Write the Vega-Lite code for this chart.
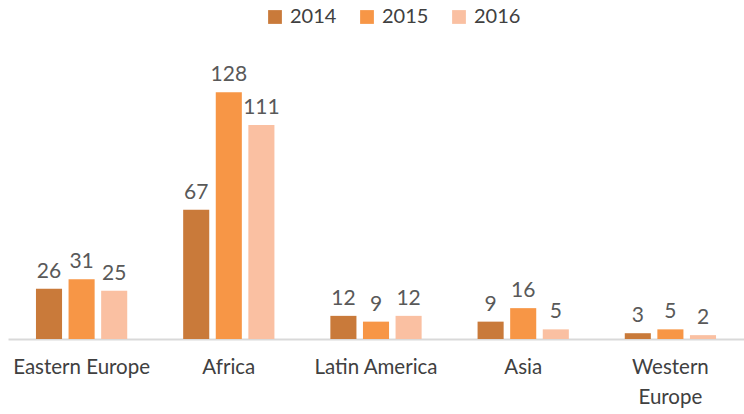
{
  "$schema": "https://vega.github.io/schema/vega-lite/v6.json",
  "autosize": {"type": "none"},
  "width": 736,
  "height": 270,
  "padding": {"left": 8, "top": 69, "right": 0, "bottom": 75},
  "background": "white",
  "config": {"view": {"stroke": null}, "font": "Lato"},
  "data": {"values": [
    {"region": "Eastern Europe", "year": "2014", "value": 26},
    {"region": "Eastern Europe", "year": "2015", "value": 31},
    {"region": "Eastern Europe", "year": "2016", "value": 25},
    {"region": "Africa", "year": "2014", "value": 67},
    {"region": "Africa", "year": "2015", "value": 128},
    {"region": "Africa", "year": "2016", "value": 111},
    {"region": "Latin America", "year": "2014", "value": 12},
    {"region": "Latin America", "year": "2015", "value": 9},
    {"region": "Latin America", "year": "2016", "value": 12},
    {"region": "Asia", "year": "2014", "value": 9},
    {"region": "Asia", "year": "2015", "value": 16},
    {"region": "Asia", "year": "2016", "value": 5},
    {"region": "Western Europe", "year": "2014", "value": 3},
    {"region": "Western Europe", "year": "2015", "value": 5},
    {"region": "Western Europe", "year": "2016", "value": 2}
  ]},
  "encoding": {
    "x": {"field": "region", "type": "nominal", "sort": null,
      "scale": {"paddingInner": 0.38, "paddingOuter": 0.19},
      "axis": {"title": null, "labelAngle": 0, "ticks": false, "domainColor": "#D9D9D9", "domainWidth": 2,
        "labelFontSize": 20.5, "labelColor": "#404040", "labelPadding": 18, "labelBaseline": "top", "labelLineHeight": 30,
        "labelExpr": "datum.label == 'Western Europe' ? ['Western', 'Europe'] : datum.label"}},
    "xOffset": {"field": "year", "type": "nominal", "scale": {"paddingInner": 0.2}},
    "y": {"field": "value", "type": "quantitative", "scale": {"domain": [0, 140]}, "axis": null},
    "color": {"field": "year", "type": "nominal",
      "scale": {"domain": ["2014", "2015", "2016"], "range": ["#C97A3A", "#F79646", "#FAC0A2"]},
      "legend": {"title": null, "orient": "none", "direction": "horizontal", "legendX": 257, "legendY": -62,
        "symbolType": "square", "symbolSize": 190, "symbolStrokeWidth": 0, "labelFontSize": 20, "labelColor": "#404040", "columnPadding": 20, "labelOffset": 5}}
  },
  "layer": [
    {"mark": {"type": "bar"}},
    {"mark": {"type": "text", "baseline": "bottom", "dy": -7, "fontSize": 21, "fill": "#595959"},
      "encoding": {"text": {"field": "value", "type": "quantitative"}, "color": {"value": "#595959"}}}
  ]
}
